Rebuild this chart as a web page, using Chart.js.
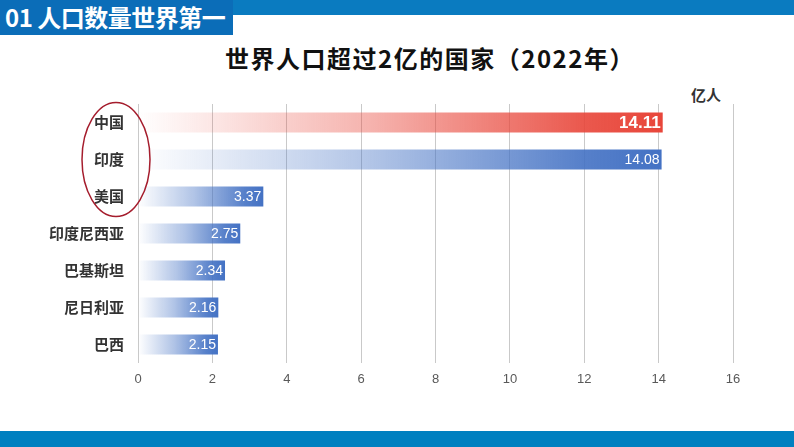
<!DOCTYPE html>
<html>
<head>
<meta charset="utf-8">
<script src="https://cdn.jsdelivr.net/npm/chart.js@4/dist/chart.umd.min.js"></script>
<style>
  html, body { margin: 0; padding: 0; background: #fff; }
  body { width: 794px; height: 447px; position: relative; overflow: hidden;
         font-family: "Noto Sans CJK SC", "Noto Sans", sans-serif; }
  .hdr-box { position: absolute; left: 0; top: 0; width: 233px; height: 35px; background: #0b6db8; }
  .hdr-txt { position: absolute; left: 5px; top: 0; height: 35px; line-height: 34px;
             color: #fff; font-weight: bold; font-size: 24px; letter-spacing: -0.5px; }
  .hdr-strip { position: absolute; left: 233px; top: 0; right: 0; height: 15px; background: #0a7bc0; }
  .foot { position: absolute; left: 0; right: 0; bottom: 0; height: 16px; background: #0080c0; }
  .title { position: absolute; left: 0; width: 860px; top: 40px; text-align: center;
           font-size: 24px; font-weight: bold; color: #111; letter-spacing: 1.5px; }
  .unit { position: absolute; left: 691px; top: 84px; font-size: 15px; font-weight: bold; color: #333; }
  #chart { position: absolute; left: 0; top: 0; }
</style>
</head>
<body>
<div class="hdr-box"><div class="hdr-txt">01 人口数量世界第一</div></div>
<div class="hdr-strip"></div>
<div class="title">世界人口超过2亿的国家（2022年）</div>
<div class="unit">亿人</div>
<div class="foot"></div>
<canvas id="chart" width="794" height="447"></canvas>
<script>
const countries = ['中国', '印度', '美国', '印度尼西亚', '巴基斯坦', '尼日利亚', '巴西'];
const population = [14.11, 14.08, 3.37, 2.75, 2.34, 2.16, 2.15];
const xTicks = [0, 2, 4, 6, 8, 10, 12, 14, 16];

const RED = [232, 70, 58];
const BLUE = [68, 114, 196];

const barFill = (ctx) => {
  const chart = ctx.chart;
  const area = chart.chartArea;
  const c = ctx.dataIndex === 0 ? RED : BLUE;
  const rgb = `${c[0]},${c[1]},${c[2]}`;
  if (!area) return `rgb(${rgb})`;
  const x = chart.scales.x;
  const x0 = x.getPixelForValue(0);
  const x1 = x.getPixelForValue(ctx.raw);
  const g = chart.ctx.createLinearGradient(x0, 0, x1, 0);
  g.addColorStop(0, `rgba(${rgb},0)`);
  g.addColorStop(0.45, `rgba(${rgb},0.42)`);
  g.addColorStop(0.85, `rgba(${rgb},0.9)`);
  g.addColorStop(1, `rgba(${rgb},1)`);
  return g;
};

const barLabels = {
  id: 'barLabels',
  afterDatasetsDraw(chart) {
    const ctx = chart.ctx;
    const meta = chart.getDatasetMeta(0);
    ctx.save();
    ctx.fillStyle = '#fff';
    ctx.textAlign = 'right';
    ctx.textBaseline = 'middle';
    meta.data.forEach((bar, i) => {
      ctx.font = i === 0 ? 'bold 17px "Liberation Sans", Arial, sans-serif'
                         : '14px "Liberation Sans", Arial, sans-serif';
      ctx.fillText(population[i].toFixed(2), bar.x - 2, bar.y + 1);
    });
    ctx.restore();
  }
};

const ring = {
  id: 'ring',
  afterDraw(chart) {
    const y = chart.scales.y;
    const top = y.getPixelForValue(0);
    const bot = y.getPixelForValue(2);
    const ctx = chart.ctx;
    ctx.save();
    ctx.strokeStyle = '#a51d2d';
    ctx.lineWidth = 1.5;
    ctx.beginPath();
    ctx.ellipse(116, (top + bot) / 2, 34, (bot - top) / 2 + 20, 0, 0, Math.PI * 2);
    ctx.stroke();
    ctx.restore();
  }
};

new Chart(document.getElementById('chart'), {
  type: 'bar',
  data: {
    labels: countries,
    datasets: [{
      data: population,
      backgroundColor: barFill,
      borderWidth: 0,
      categoryPercentage: 0.9,
      barPercentage: 0.6
    }]
  },
  options: {
    indexAxis: 'y',
    responsive: false,
    animation: false,
    layout: { padding: { left: 0, right: 61, top: 104, bottom: 54 } },
    plugins: { legend: { display: false }, tooltip: { enabled: false } },
    scales: {
      x: {
        min: 0, max: 16,
        afterBuildTicks: (s) => { s.ticks = xTicks.map(v => ({ value: v })); },
        afterFit: (s) => { s.height = 30; },
        grid: { color: '#c9c9c9', lineWidth: 1, drawTicks: false },
        border: { display: false },
        ticks: { padding: 9, color: '#595959',
                 font: { size: 13, family: '"Liberation Sans", Arial, sans-serif' } }
      },
      y: {
        afterFit: (s) => { s.width = 138; },
        grid: { display: false, drawTicks: false },
        border: { display: false },
        ticks: { padding: 14, color: '#333',
                 font: { size: 15, weight: 'bold', family: '"Noto Sans CJK SC", sans-serif' } }
      }
    }
  },
  plugins: [barLabels, ring]
});
</script>
</body>
</html>
